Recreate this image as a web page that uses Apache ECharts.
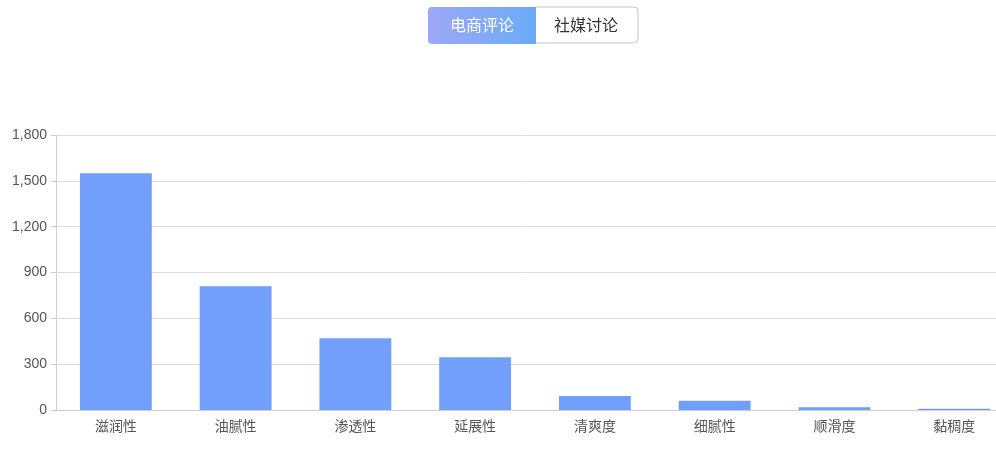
<!DOCTYPE html>
<html><head><meta charset="utf-8">
<script src="https://cdn.jsdelivr.net/npm/echarts@6/dist/echarts.min.js"></script>
<style>html,body{margin:0;padding:0;background:#fff}#c{width:996px;height:467px}</style>
</head><body><div id="c"></div>
<script>
const categories = ['滋润性','油腻性','渗透性','延展性','清爽度','细腻性','顺滑度','黏稠度'];
const values = [1550, 810, 470, 345, 92, 60, 18, 8];
const yTicks = {min: 0, max: 1800, interval: 300};
const tabs = ['电商评论','社媒讨论'];

const chart = echarts.init(document.getElementById('c'));
const font = '"Liberation Sans","Noto Sans CJK SC",sans-serif';
chart.setOption({
  animation: false,
  grid: {left: 56, top: 135, width: 958, height: 275, outerBoundsMode: 'none', containLabel: false},
  xAxis: {
    type: 'category', data: categories,
    axisLine: {lineStyle: {color: '#cfcfcf'}},
    axisTick: {lineStyle: {color: '#cfcfcf'}, length: 5},
    axisLabel: {color: '#555', fontSize: 14, fontFamily: font, margin: 10}
  },
  yAxis: {
    type: 'value', min: yTicks.min, max: yTicks.max, interval: yTicks.interval,
    axisLine: {show: true, lineStyle: {color: '#cfcfcf'}},
    axisTick: {show: true, lineStyle: {color: '#cfcfcf'}, length: 5},
    splitLine: {lineStyle: {color: '#dcdcdc'}},
    axisLabel: {color: '#555', fontSize: 14, fontFamily: font, margin: 9,
      formatter: v => v.toLocaleString('en-US')}
  },
  series: [{
    type: 'bar', data: values, barCategoryGap: '40%',
    itemStyle: {color: '#719ffb'}
  }],
  graphic: [
    {type: 'rect', x: 535, y: 7, shape: {width: 103, height: 36, r: [0,4,4,0]},
     style: {fill: '#fff', stroke: '#c8c8c8', lineWidth: 1}},
    {type: 'rect', x: 428, y: 7, shape: {width: 108, height: 37, r: [4,0,0,4]},
     style: {fill: new echarts.graphic.LinearGradient(0,0,1,0,[{offset:0,color:'#9ea8f8'},{offset:1,color:'#6aaaf7'}])}},
    {type: 'text', x: 482, y: 27, style: {text: tabs[0], fill: '#fff', fontSize: 16, fontFamily: font, align: 'center', verticalAlign: 'middle'}},
    {type: 'text', x: 586, y: 27, style: {text: tabs[1], fill: '#333', fontSize: 16, fontFamily: font, align: 'center', verticalAlign: 'middle'}}
  ]
});
</script></body></html>
